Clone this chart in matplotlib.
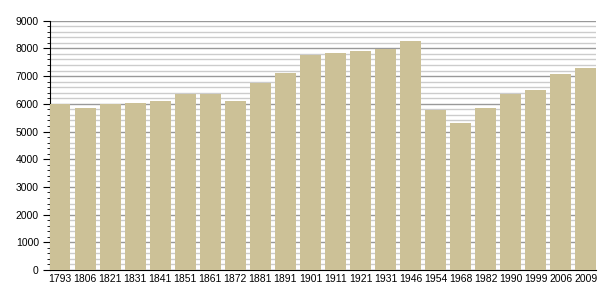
import numpy as np
import matplotlib
matplotlib.use("Agg")
import matplotlib.pyplot as plt
from matplotlib.ticker import MultipleLocator

years = ["1793", "1806", "1821", "1831", "1841", "1851", "1861", "1872", "1881", "1891", "1901",
         "1911", "1921", "1931", "1946", "1954", "1968", "1982", "1990", "1999", "2006", "2009"]
population = [6000, 5840, 6010, 6040, 6090, 6340, 6355, 6090, 6760, 7100, 7770,
              7850, 7890, 7990, 8250, 5780, 5300, 5840, 6340, 6490, 7060, 7300]

plt.rcParams['font.family'] = ['Liberation Sans', 'DejaVu Sans']

fig = plt.figure(figsize=(6.05, 3.0), dpi=100)
ax = fig.add_axes([0.0826, 0.1, 0.9024, 0.831])

x = np.arange(len(years))
w = 0.82
ax.bar(x, population, width=w, align='edge', color='#CCC197', zorder=3)

ax.set_xlim(0, len(years) - 1 + w)
ax.set_ylim(0, 9000)
ax.set_xticks(x + w / 2)
ax.set_xticklabels(years)

ax.yaxis.set_major_locator(MultipleLocator(1000))
ax.yaxis.set_minor_locator(MultipleLocator(200))
ax.grid(True, which='major', axis='y', color='#999999', lw=1.0, zorder=0)
ax.grid(True, which='minor', axis='y', color='#cccccc', lw=1.0, zorder=0)

for s in ['top', 'right']:
    ax.spines[s].set_visible(False)
ax.spines['left'].set_color('black')
ax.spines['bottom'].set_color('black')
ax.tick_params(axis='x', length=0, labelsize=7.5, pad=3)
ax.tick_params(axis='y', which='major', length=5, labelsize=7.5, pad=3)
ax.tick_params(axis='y', which='minor', length=2.5)

fig.savefig("out.png", dpi=100)
